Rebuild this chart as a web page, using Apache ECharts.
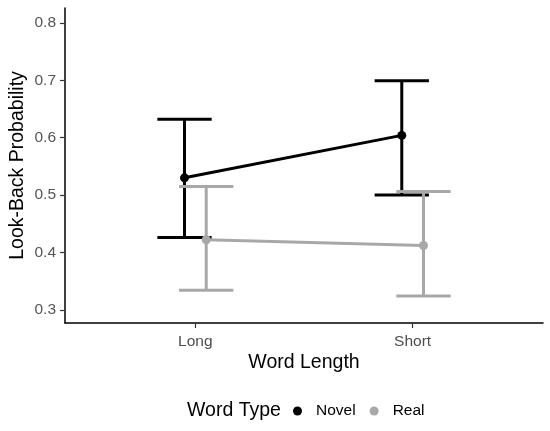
<!DOCTYPE html>
<html>
<head>
<meta charset="utf-8">
<script src="https://cdn.jsdelivr.net/npm/echarts@6/dist/echarts.min.js"></script>
<style>
  html, body { margin: 0; padding: 0; background: #fff; }
  #chart { width: 550px; height: 431px; }
</style>
</head>
<body>
<div id="chart"></div>
<script>
// Word length conditions on the x axis
const categories = ['Long', 'Short'];
// Look-back probability means and error bar bounds per word type
const novelMean  = [0.530, 0.604];
const novelLower = [0.426, 0.500];
const novelUpper = [0.632, 0.699];
const realMean   = [0.422, 0.412];
const realLower  = [0.334, 0.324];
const realUpper  = [0.515, 0.506];
const yTicks = [0.3, 0.4, 0.5, 0.6, 0.7, 0.8];

const DODGE = 0.05;      // horizontal dodge between word types
const CAP = 0.125;       // half width of error bar caps
const NOVEL_COLOR = '#000000';
const REAL_COLOR = '#a8a8a8';
const FONT = 'Liberation Sans, Arial, sans-serif';

function pos(i, shift) { return i + 1 + shift; }

function pointData(means, shift) {
  return means.map((v, i) => [pos(i, shift), v]);
}
function barData(lower, upper, shift) {
  return lower.map((lo, i) => [pos(i, shift), lo, upper[i]]);
}

function errorBarSeries(name, lower, upper, shift, color, z) {
  return {
    type: 'custom',
    name: name,
    z: z,
    silent: true,
    data: barData(lower, upper, shift),
    encode: { x: 0, y: [1, 2] },
    renderItem: function (params, api) {
      const x = api.value(0);
      const lo = api.coord([x, api.value(1)]);
      const hi = api.coord([x, api.value(2)]);
      const l = api.coord([x - CAP, api.value(1)])[0];
      const r = api.coord([x + CAP, api.value(1)])[0];
      const style = { stroke: color, lineWidth: 3, fill: null };
      return {
        type: 'group',
        children: [
          { type: 'line', shape: { x1: lo[0], y1: lo[1], x2: hi[0], y2: hi[1] }, style: style },
          { type: 'line', shape: { x1: l, y1: hi[1], x2: r, y2: hi[1] }, style: style },
          { type: 'line', shape: { x1: l, y1: lo[1], x2: r, y2: lo[1] }, style: style }
        ]
      };
    }
  };
}

const chart = echarts.init(document.getElementById('chart'), null, { renderer: 'canvas' });

chart.setOption({
  animation: false,
  backgroundColor: '#ffffff',
  grid: { left: 65, right: 7, top: 8, bottom: 108, containLabel: false, outerBoundsMode: 'none' },
  xAxis: {
    type: 'value',
    min: 0.4,
    max: 2.6,
    name: 'Word Length',
    nameLocation: 'middle',
    nameGap: 30,
    nameMoveOverlap: false,
    nameTextStyle: { fontFamily: FONT, fontSize: 19.5, color: '#000' },
    splitLine: { show: false },
    axisLine: { show: true, onZero: false, lineStyle: { color: '#000', width: 1.5 } },
    axisTick: { show: true, length: 5, lineStyle: { color: '#333', width: 1.2 }, customValues: [1, 2] },
    axisLabel: {
      customValues: [1, 2],
      formatter: function (v) { return categories[Math.round(v) - 1] || ''; },
      fontFamily: FONT, fontSize: 15.5, color: '#4d4d4d', margin: 11
    }
  },
  yAxis: {
    type: 'value',
    min: 0.277,
    max: 0.826,
    name: 'Look-Back Probability',
    nameLocation: 'middle',
    nameGap: 37,
    nameRotate: 90,
    nameMoveOverlap: false,
    nameTextStyle: { fontFamily: FONT, fontSize: 19.5, color: '#000' },
    splitLine: { show: false },
    axisLine: { show: true, onZero: false, lineStyle: { color: '#000', width: 1.5 } },
    axisTick: { show: true, length: 5, lineStyle: { color: '#333', width: 1.2 }, customValues: yTicks },
    axisLabel: {
      customValues: yTicks,
      formatter: function (v) { return v.toFixed(1); },
      fontFamily: FONT, fontSize: 15.5, color: '#555555', margin: 9
    }
  },
  legend: {
    top: 398,
    left: 288,
    itemWidth: 9,
    itemHeight: 9,
    itemGap: 14,
    icon: 'circle',
    textStyle: { fontFamily: FONT, fontSize: 15.5, color: '#000', padding: [0, 0, 0, 9] },
    data: [
      { name: 'Novel', itemStyle: { color: NOVEL_COLOR } },
      { name: 'Real', itemStyle: { color: REAL_COLOR } }
    ]
  },
  graphic: [{
    type: 'text',
    left: 187,
    top: 401,
    style: { text: 'Word Type', fontFamily: FONT, fontSize: 19.5, fill: '#000' }
  }],
  series: [
    errorBarSeries('Novel', novelLower, novelUpper, -DODGE, NOVEL_COLOR, 2),
    errorBarSeries('Real', realLower, realUpper, DODGE, REAL_COLOR, 3),
    {
      type: 'line',
      name: 'Novel',
      z: 4,
      data: pointData(novelMean, -DODGE),
      symbol: 'circle',
      symbolSize: 9,
      itemStyle: { color: NOVEL_COLOR },
      lineStyle: { color: NOVEL_COLOR, width: 3 }
    },
    {
      type: 'line',
      name: 'Real',
      z: 5,
      data: pointData(realMean, DODGE),
      symbol: 'circle',
      symbolSize: 9,
      itemStyle: { color: REAL_COLOR },
      lineStyle: { color: REAL_COLOR, width: 3 }
    }
  ]
});
</script>
</body>
</html>
